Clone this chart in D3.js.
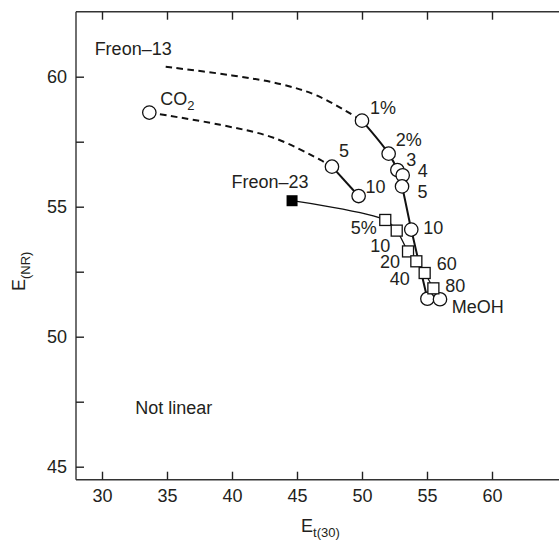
<!DOCTYPE html>
<html>
<head>
<meta charset="utf-8">
<script src="https://cdn.jsdelivr.net/npm/d3@7"></script>
<style>
  html, body { margin: 0; padding: 0; background: #fff; }
  svg { display: block; }
  text { font-family: "Liberation Sans", Arial, Helvetica, sans-serif; fill: #231f20; }
</style>
</head>
<body>
<script>
// ---------- data ----------
const xTicks = [30, 35, 40, 45, 50, 55, 60];
const yTicks = [45, 50, 55, 60];
const yMinorTicks = [47.5, 52.5, 57.5];

// Freon-13 modified with MeOH (circles)
const freon13Labels = ["1%", "2%", "3", "4", "5", "10"];
const freon13X = [50.0, 52.05, 52.72, 53.13, 53.08, 53.79];
const freon13Y = [58.31, 57.04, 56.41, 56.21, 55.78, 54.12];
const freon13OnLine = [true, true, true, false, true, true];
// extrapolated (dashed) part towards pure Freon-13
const freon13DashX = [34.9, 40.0, 43.7, 46.6, 50.0];
const freon13DashY = [60.38, 60.05, 59.72, 59.26, 58.31];

// CO2 modified with MeOH (circles)
const co2Labels = ["CO2", "5", "10"];
const co2X = [33.64, 47.69, 49.74];
const co2Y = [58.62, 56.54, 55.41];
const co2DashX = [33.64, 39.1, 43.2, 46.8, 47.69];
const co2DashY = [58.62, 58.15, 57.65, 56.8, 56.54];

// Freon-23 (filled square) modified with MeOH (open squares)
const freon23X = 44.62;
const freon23Y = 55.23;
const freon23Labels = ["5%", "10", "20", "40", "60", "80"];
const freon23MixX = [51.79, 52.67, 53.54, 54.18, 54.82, 55.49];
const freon23MixY = [54.49, 54.08, 53.28, 52.90, 52.45, 51.86];

// pure methanol
const meohX = [55.03, 56.0];
const meohY = [51.46, 51.44];

const noteText = "Not linear";
const noteX = 32.55, noteY = 47.03;

// ---------- layout / style ----------
const W = 559, H = 541;
const FS = 18;
// label offsets (pixels) relative to their markers: [dx, dy, anchor]
const freon13LabelOff = [[8, -7, "start"], [7, -8, "start"], [9, -4, "start"], [15, 1.5, "start"], [15.5, 12, "start"], [12, 4.5, "start"]];
const co2LabelOff = [[11, -8, "start"], [7, -10, "start"], [7, -3.5, "start"]];
const freon23LabelOff = [[-8.5, 14.5, "end"], [-6.5, 21.5, "end"], [-8, 16.5, "end"], [-6.5, 24, "end"], [12, -3, "start"], [12, 3.5, "start"]];

const x = d3.scaleLinear().domain([30, 60]).range([102, 492]);
const y = d3.scaleLinear().domain([45, 60]).range([466.7, 76.7]);
const xLeft = x(28), yTop = y(62.5), yBot = y(44.5);

const svg = d3.select("body").append("svg").attr("width", W).attr("height", H);

// frame (right side runs off the page as in the reference)
const frame = svg.append("g").attr("stroke", "#333").attr("stroke-width", 1.4).attr("fill", "none");
frame.append("line").attr("x1", xLeft).attr("x2", W + 5).attr("y1", yTop).attr("y2", yTop);
frame.append("line").attr("x1", xLeft).attr("x2", W + 5).attr("y1", yBot).attr("y2", yBot);
frame.append("line").attr("x1", xLeft).attr("x2", xLeft).attr("y1", yTop).attr("y2", yBot);

function styleAxis(g) {
  g.select(".domain").remove();
  g.selectAll(".tick line").attr("stroke", "#222").attr("stroke-width", 1.4);
  g.selectAll(".tick text").style("font-size", FS + "px").attr("fill", "#231f20")
    .style("font-family", '"Liberation Sans", Arial, sans-serif');
}

svg.append("g").attr("transform", `translate(0,${yBot})`)
  .call(d3.axisBottom(x).tickValues(xTicks).tickSize(-8).tickPadding(10).tickFormat(d3.format("d")))
  .call(styleAxis);
svg.append("g").attr("transform", `translate(0,${yTop})`)
  .call(d3.axisTop(x).tickValues(xTicks).tickSize(-8).tickFormat(""))
  .call(styleAxis);
svg.append("g").attr("transform", `translate(${xLeft},0)`)
  .call(d3.axisLeft(y).tickValues(yTicks).tickSize(-8).tickPadding(9).tickFormat(d3.format("d")))
  .call(styleAxis);
svg.append("g").attr("transform", `translate(${xLeft},0)`)
  .call(d3.axisLeft(y).tickValues(yMinorTicks).tickSize(-8).tickFormat(""))
  .call(styleAxis);

// axis titles
const xt = svg.append("text").attr("x", 301).attr("y", 532).style("font-size", FS + "px");
xt.append("tspan").text("E");
xt.append("tspan").attr("dy", 5).style("font-size", "13px").text("t(30)");
const yt = svg.append("text").attr("transform", "translate(25,291) rotate(-90)").style("font-size", FS + "px");
yt.append("tspan").text("E");
yt.append("tspan").attr("dy", 5).style("font-size", "13px").text("(NR)");

// ---------- lines ----------
const line = d3.line().x(d => x(d[0])).y(d => y(d[1])).curve(d3.curveCatmullRom.alpha(0.5));
const dash = "6.5,4.5";

svg.append("path").datum(d3.zip(freon13DashX, freon13DashY))
  .attr("d", line).attr("fill", "none").attr("stroke", "#111").attr("stroke-width", 2).attr("stroke-dasharray", dash);
svg.append("path").datum(d3.zip(co2DashX, co2DashY))
  .attr("d", line).attr("fill", "none").attr("stroke", "#111").attr("stroke-width", 2).attr("stroke-dasharray", dash);

const f13Line = d3.zip(freon13X, freon13Y).filter((d, i) => freon13OnLine[i]);
f13Line.push([meohX[0], meohY[0]]);
svg.append("path").datum(f13Line)
  .attr("d", line).attr("fill", "none").attr("stroke", "#111").attr("stroke-width", 2);

svg.append("path").datum(d3.zip(co2X.slice(1), co2Y.slice(1)))
  .attr("d", line).attr("fill", "none").attr("stroke", "#111").attr("stroke-width", 2);

const f23Line = [[freon23X, freon23Y]].concat(d3.zip(freon23MixX, freon23MixY));
svg.append("path").datum(f23Line)
  .attr("d", line).attr("fill", "none").attr("stroke", "#111").attr("stroke-width", 1.3);

// ---------- markers ----------
const R = 6.7, S = 11;
function circles(xs, ys) {
  svg.append("g").selectAll("circle").data(d3.zip(xs, ys)).join("circle")
    .attr("cx", d => x(d[0])).attr("cy", d => y(d[1])).attr("r", R)
    .attr("fill", "#fff").attr("stroke", "#111").attr("stroke-width", 1.3);
}
circles(co2X, co2Y);
circles(freon13X, freon13Y);
circles(meohX, meohY);

svg.append("g").selectAll("rect").data(d3.zip(freon23MixX, freon23MixY)).join("rect")
  .attr("x", d => x(d[0]) - S / 2).attr("y", d => y(d[1]) - S / 2).attr("width", S).attr("height", S)
  .attr("fill", "#fff").attr("stroke", "#111").attr("stroke-width", 1.3);
svg.append("rect").attr("x", x(freon23X) - S / 2).attr("y", y(freon23Y) - S / 2)
  .attr("width", S).attr("height", S).attr("fill", "#000");

// ---------- labels ----------
function labels(names, xs, ys, offs) {
  names.forEach((t, i) => {
    const o = offs[i];
    const el = svg.append("text").attr("x", x(xs[i]) + o[0]).attr("y", y(ys[i]) + o[1])
      .attr("text-anchor", o[2]).style("font-size", FS + "px");
    if (t === "CO2") {
      el.append("tspan").text("CO");
      el.append("tspan").attr("dy", 5).style("font-size", "13px").text("2");
    } else {
      el.text(t);
    }
  });
}
labels(freon13Labels, freon13X, freon13Y, freon13LabelOff);
labels(co2Labels, co2X, co2Y, co2LabelOff);
labels(freon23Labels, freon23MixX, freon23MixY, freon23LabelOff);

svg.append("text").attr("x", x(freon13DashX[0]) + 6).attr("y", y(freon13DashY[0]) - 11.7)
  .attr("text-anchor", "end").style("font-size", FS + "px").text("Freon\u201313");
svg.append("text").attr("x", x(freon23X) + 16.5).attr("y", y(freon23Y) - 12.4)
  .attr("text-anchor", "end").style("font-size", FS + "px").text("Freon\u201323");
svg.append("text").attr("x", x(meohX[1]) + 11.7).attr("y", y(meohY[1]) + 14)
  .style("font-size", FS + "px").text("MeOH");
svg.append("text").attr("x", x(noteX)).attr("y", y(noteY))
  .style("font-size", FS + "px").text(noteText);
</script>
</body>
</html>
